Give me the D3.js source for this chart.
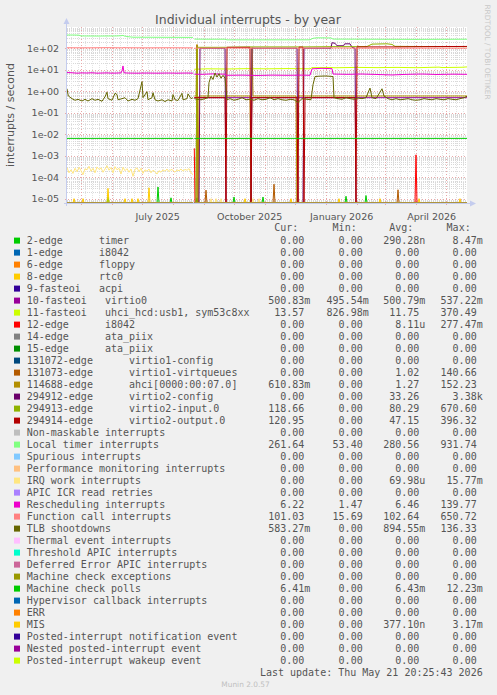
<!DOCTYPE html>
<html><head><meta charset="utf-8">
<script src="https://cdn.jsdelivr.net/npm/d3@7/dist/d3.min.js"></script>
<style>
html,body{margin:0;padding:0;background:#F0F0F0;}
svg text{white-space:pre;}
</style></head>
<body>
<svg id="chart" width="497" height="695"></svg>
<script>
// ---------- DATA ----------
const startDay = Date.UTC(2025, 3, 16, 20, 25, 43);
const endDay = Date.UTC(2026, 4, 21, 20, 25, 43);
const yTickValues = [1e-5, 1e-4, 1e-3, 1e-2, 1e-1, 1, 10, 100];
const yTickLabels = ["1e-05", "1e-04", "1e-03", "1e-02", "1e-01", "1e+00", "1e+01", "1e+02"];
const xTickLabels = ["July 2025", "October 2025", "January 2026", "April 2026"];
const xTickDates = [Date.UTC(2025,6,1), Date.UTC(2025,9,1), Date.UTC(2026,0,1), Date.UTC(2026,3,1)];

const labels = [
  "2-edge      timer", "1-edge      i8042", "6-edge      floppy", "8-edge      rtc0",
  "9-fasteoi   acpi", "10-fasteoi   virtio0", "11-fasteoi   uhci_hcd:usb1, sym53c8xx",
  "12-edge      i8042", "14-edge      ata_piix", "15-edge      ata_piix",
  "131072-edge      virtio1-config", "131073-edge      virtio1-virtqueues",
  "114688-edge      ahci[0000:00:07.0]", "294912-edge      virtio2-config",
  "294913-edge      virtio2-input.0", "294914-edge      virtio2-output.0",
  "Non-maskable interrupts", "Local timer interrupts", "Spurious interrupts",
  "Performance monitoring interrupts", "IRQ work interrupts", "APIC ICR read retries",
  "Rescheduling interrupts", "Function call interrupts", "TLB shootdowns",
  "Thermal event interrupts", "Threshold APIC interrupts", "Deferred Error APIC interrupts",
  "Machine check exceptions", "Machine check polls", "Hypervisor callback interrupts",
  "ERR", "MIS", "Posted-interrupt notification event", "Nested posted-interrupt event",
  "Posted-interrupt wakeup event"
];
const colors = [
  "#00CC00","#0066B3","#FF8000","#FFCC00","#330099","#990099","#CCFF00","#FF0000",
  "#808080","#008F00","#00487D","#B35A00","#B38F00","#6B006B","#8FB300","#B30000",
  "#BEBEBE","#80FF80","#80C9FF","#FFC080","#FFE680","#AA80FF","#EE00CC","#FF8080",
  "#666600","#FFBFFF","#00FFCC","#CC6699","#999900","#00CC00","#0066B3","#FF8000",
  "#FFCC00","#330099","#990099","#CCFF00"
];
const curValues = ["0.00","0.00","0.00","0.00","0.00","500.83m","13.57","0.00","0.00","0.00","0.00","0.00","610.83m","0.00","118.66","120.95","0.00","261.64","0.00","0.00","0.00","0.00","6.22","101.03","583.27m","0.00","0.00","0.00","0.00","6.41m","0.00","0.00","0.00","0.00","0.00","0.00"];
const minValues = ["0.00","0.00","0.00","0.00","0.00","495.54m","826.98m","0.00","0.00","0.00","0.00","0.00","0.00","0.00","0.00","0.00","0.00","53.40","0.00","0.00","0.00","0.00","1.47","15.69","0.00","0.00","0.00","0.00","0.00","0.00","0.00","0.00","0.00","0.00","0.00","0.00"];
const avgValues = ["290.28n","0.00","0.00","0.00","0.00","500.79m","11.75","8.11u","0.00","0.00","0.00","1.02","1.27","33.26","80.29","47.15","0.00","280.56","0.00","0.00","69.98u","0.00","6.46","102.64","894.55m","0.00","0.00","0.00","0.00","6.43m","0.00","0.00","377.10n","0.00","0.00","0.00"];
const maxValues = ["8.47m","0.00","0.00","0.00","0.00","537.22m","370.49","277.47m","0.00","0.00","0.00","140.66","152.23","3.38k","670.60","396.32","0.00","931.74","0.00","0.00","15.77m","0.00","139.77","650.72","136.33","0.00","0.00","0.00","0.00","12.23m","0.00","0.00","3.17m","0.00","0.00","0.00"];

// series points: [day since start, value]; null value = no data
const zeroLine = [[0,0],[126,0],[126.5,null],[127.3,0],[400,0]];
const zeroAfterGap = [[127.3,0],[400,0]];
const timerPts = [[0,0],[40,0],[41,1.2e-5],[42,0],[90,0],[91,3.5e-5],[92,0],[103,0],[104,1.1e-5],[105,0],[126,0],[126.5,null],[127.3,0],[129,0],[130,1.1e-5],[131,0],[166,0],[167,1.2e-5],[168,0],[195,0],[196,1.2e-5],[197,0],[278,0],[279,1.3e-5],[280,0],[298,0],[299,1.4e-5],[300,0],[400,0]];
const virtio0Pts = [[127.3,0.5],[200,0.5],[300,0.5],[400,0.5]];
const fasteoi11Pts = [[127.3,10.5],[140,11],[160,10.8],[180,11.2],[200,11],[220,11.3],[243,11],[245,12.5],[265,12.6],[267,12.3],[290,12.8],[310,12.5],[330,12.8],[350,12.4],[372,13.2],[375,12.6],[395,13],[400,13.5]];
const edge12Pts = [[0,0],[126,0],[126.5,null],[127.3,2.2e-3],[128,0],[348,0],[349,1.1e-3],[350,0],[400,0]];
const virtqPts = [[0,0],[126,0],[126.5,null],[127.3,0],[129,0],[130,140],[131,0],[138,0],[139,2.5e-5],[140,0],[206,0],[207,4.7e-5],[208,0],[330,0],[331,2.6e-5],[332,0],[400,0]];
const ahciPts = [[127.3,0.6],[129,0.6],[130,150],[131,0],[132,0.6],[183,0.6],[184,0],[185,110],[186,0.6],[229,0.6],[230,0],[231,0.6],[400,0.6]];
const configPts = [[127.3,0],[132,0],[133,100],[158,100],[159,0],[184,0],[185,100],[230,100],[231,0],[236,0],[237,100],[264,100],[265,180],[268,170],[270,130],[276,130],[278,160],[283,160],[285,110],[288,100],[289,0],[400,0]];
const inputPts = [[127.3,0],[129,0],[130,110],[159,110],[166,112],[184,115],[231,115],[237,115],[266,118],[290,118],[300,120],[305,155],[320,160],[325,150],[328,122],[350,120],[400,118]];
const outputPts = [[127.3,0.5],[158,0.5],[159,0],[160,110],[183,110],[184,0],[185,0.5],[230,0.5],[231,0],[232,112],[236,112],[237,0],[238,0.5],[288,0.5],[289,0],[290,115],[330,115],[360,118],[400,121]];
const localTimerPts = [[0,410],[6,412],[12,405],[14,372],[30,368],[50,372],[55,385],[56,400],[57,370],[62,340],[66,325],[90,322],[110,320],[126,318],[126.5,null],[127.3,265],[140,262],[158,262],[160,245],[200,245],[243,246],[246,290],[250,305],[264,300],[266,265],[300,262],[350,258],[400,262]];
const irqWorkPts = [[0,2.8e-4],[2,1.6e-4],[4,2.2e-4],[6,1.5e-4],[8,2.6e-4],[10,1.8e-4],[12,2.9e-4],[14,2e-4],[16,1.3e-4],[18,2.5e-4],[20,2.2e-4],[22,3.2e-4],[24,1.9e-4],[26,2.6e-4],[28,1.6e-4],[30,3e-4],[32,2.3e-4],[34,2.7e-4],[36,1.7e-4],[38,2.4e-4],[40,3.4e-4],[42,2.1e-4],[44,2.8e-4],[46,1.6e-4],[48,3.1e-4],[50,2.2e-4],[52,2.6e-4],[54,1.4e-4],[56,2.9e-4],[58,2e-4],[60,2.5e-4],[62,1.7e-4],[64,2.4e-4],[66,1.1e-4],[68,2.3e-4],[70,2.7e-4],[72,1.8e-4],[74,2.6e-4],[76,1.5e-4],[78,2.2e-4],[80,1.9e-4],[82,2.4e-4],[84,1.6e-4],[86,2.1e-4],[88,1.8e-4],[90,1.4e-4],[92,2e-4],[94,1.7e-4],[96,2.2e-4],[98,1.9e-4],[100,2.4e-4],[102,1.8e-4],[104,2.3e-4],[106,2.1e-4],[108,1.7e-4],[110,2.2e-4],[112,2e-4],[114,2.4e-4],[116,1.9e-4],[118,2.3e-4],[120,2.1e-4],[122,2.5e-4],[124,1.6e-4],[126,1.3e-4],[126.5,null],[127.3,0],[143,0],[144,1e-5],[145,0],[148,0],[149,1e-5],[150,0],[153,0],[154,1e-5],[155,0],[185,0],[186,1e-5],[187,0],[191,0],[192,1e-5],[193,0],[400,0]];
const reschedPts = [[0,7.4],[5,7.2],[10,6.9],[15,7.1],[20,7.0],[25,7.2],[30,6.9],[35,7.0],[40,7.1],[45,6.9],[50,7.0],[54,7.1],[55,9],[56,15],[57,7.2],[60,7.0],[70,6.9],[80,7.0],[90,6.9],[100,7.0],[110,6.9],[120,7.0],[126,6.9],[126.5,null],[127.3,6.2],[135,6.1],[145,6.4],[158,6.2],[160,5.5],[175,5.6],[190,5.4],[205,5.6],[220,5.5],[235,5.6],[243,5.5],[245,11],[255,11.6],[265,11.2],[266,6.3],[280,6.1],[295,6.3],[310,6.0],[325,5.7],[340,6.1],[355,6.3],[370,6.0],[385,6.2],[400,6.1]];
const funcCallPts = [[0,105],[20,104],[40,106],[56,104],[57,108],[58,105],[80,104],[100,105],[126,104],[126.5,null],[127.3,100],[160,102],[200,100],[243,101],[266,103],[300,100],[350,101],[400,100]];
const tlbPts = [[0,1.3],[1.3,0.6],[5,0.45],[8,0.38],[11,0.42],[15,0.35],[18,0.42],[21,0.35],[25,0.45],[28,0.38],[31,0.42],[35,0.34],[38,0.55],[40,0.9],[41,0.45],[45,0.38],[48,0.8],[50,0.7],[51,0.4],[55,0.45],[58,0.5],[61,0.35],[65,0.42],[68,0.38],[71,0.45],[75,2.8],[76,0.5],[80,0.95],[81,0.4],[85,0.5],[86,0.85],[88,0.4],[91,0.35],[95,0.4],[98,0.33],[101,0.4],[105,0.35],[106,0.7],[108,0.4],[111,0.37],[115,0.8],[116,0.4],[120,0.45],[121,0.75],[124,0.45],[126,0.5],[126.5,null],[127.3,0.45],[130,0.42],[134,0.4],[138,0.45],[141,0.5],[142,2.5],[144,5],[146,3.5],[148,7],[150,4.5],[152,6.5],[154,4],[156,5.5],[158,4],[160,0.4],[163,0.45],[167,0.38],[171,0.42],[175,0.5],[179,0.4],[183,0.42],[187,0.38],[191,0.45],[195,0.4],[199,0.42],[203,0.5],[207,0.4],[211,0.45],[215,0.4],[219,0.38],[223,0.42],[227,0.4],[231,0.3],[235,0.45],[240,0.42],[244,0.4],[246,2],[248,4.8],[252,5],[258,5.1],[262,5],[266,4.8],[267,0.5],[271,0.45],[275,0.42],[279,0.5],[283,0.45],[287,0.42],[291,0.48],[295,0.45],[299,0.5],[303,1.4],[305,0.5],[309,0.45],[313,0.9],[315,1.3],[317,0.6],[321,0.45],[325,0.4],[329,0.45],[333,0.4],[337,0.42],[341,0.45],[345,0.4],[349,0.38],[353,0.4],[357,0.45],[361,0.42],[365,0.4],[369,0.45],[373,0.42],[377,0.4],[381,0.45],[385,0.42],[389,0.4],[393,0.45],[397,0.5],[400,0.58]];
const mcPollPts = [[0,6.4e-3],[126,6.4e-3],[126.5,null],[127.3,6.4e-3],[400,6.4e-3]];
const misPts = [[0,0],[6,0],[7,1e-5],[8,0],[15,0],[16,1e-5],[17,0],[40,0],[41,3e-5],[42,0],[57,0],[58,1e-5],[59,0],[64,0],[65,1e-5],[66,0],[70,0],[71,1e-5],[72,0],[81,0],[82,3.2e-5],[83,0],[126,0],[126.5,null],[127.3,0],[177,0],[178,1e-5],[179,0],[223,0],[224,1e-5],[225,0],[271,0],[272,1e-5],[273,0],[312,0],[313,1e-5],[314,0],[351,0],[352,1e-5],[353,0],[392,0],[393,1e-5],[394,0],[400,0]];

const seriesPoints = {
  0: timerPts, 5: virtio0Pts, 6: fasteoi11Pts, 7: edge12Pts, 11: virtqPts, 12: ahciPts,
  13: configPts, 14: inputPts, 15: outputPts, 17: localTimerPts, 20: irqWorkPts,
  22: reschedPts, 23: funcCallPts, 24: tlbPts, 29: mcPollPts, 32: misPts
};

// ---------- DRAW ----------
const svg = d3.select("#chart");
const L = 67, R = 467, T = 27, B = 203;
const yLo = 6.3e-6, yHi = 970;
const x = d3.scaleUtc().domain([startDay, endDay]).range([L, R]);
const y = d3.scaleLog().domain([yLo, yHi]).range([B, T]).clamp(true);
const dayToDate = d => startDay + d * 86400000;

svg.append("rect").attr("x", L).attr("y", T).attr("width", R - L).attr("height", B - T).attr("fill", "#FFFFFF");

const grid = svg.append("g");
// minor horizontal grid
for (let e = -6; e <= 2; e++) {
  for (let m = 2; m <= 9; m++) {
    const v = m * Math.pow(10, e);
    if (v < yLo || v > yHi) continue;
    grid.append("line").attr("x1", L).attr("x2", R).attr("y1", Math.round(y(v)) + 0.5).attr("y2", Math.round(y(v)) + 0.5)
      .attr("stroke", "#D8D8D8").attr("stroke-dasharray", "1,1");
  }
}
// minor vertical grid (weekly)
d3.utcMonday.range(new Date(startDay), new Date(endDay)).forEach(d => {
  grid.append("line").attr("x1", Math.round(x(d)) + 0.5).attr("x2", Math.round(x(d)) + 0.5).attr("y1", T).attr("y2", B)
    .attr("stroke", "#E4E4E4").attr("stroke-dasharray", "1,1");
});
// major vertical grid (monthly)
d3.utcMonth.range(new Date(startDay), new Date(endDay)).forEach(d => {
  grid.append("line").attr("x1", Math.round(x(d)) + 0.5).attr("x2", Math.round(x(d)) + 0.5).attr("y1", T).attr("y2", B + 3)
    .attr("stroke", "#E8A8A8").attr("stroke-dasharray", "1,2");
});
// major horizontal grid
yTickValues.forEach(v => {
  grid.append("line").attr("x1", L - 2).attr("x2", R).attr("y1", Math.round(y(v)) + 0.5).attr("y2", Math.round(y(v)) + 0.5)
    .attr("stroke", "#E8A8A8").attr("stroke-dasharray", "1,2");
});

// series lines
const line = d3.line()
  .defined(d => d[1] !== null)
  .x(d => x(dayToDate(d[0])))
  .y(d => y(Math.max(d[1], yLo)));
const plot = svg.append("g");
labels.forEach((lab, i) => {
  let pts = seriesPoints[i];
  if (!pts) pts = (i >= 10 && i <= 15) || i === 5 || i === 6 ? zeroAfterGap : zeroLine;
  plot.append("path").datum(pts).attr("d", line).attr("fill", "none")
    .attr("stroke", colors[i]).attr("stroke-width", 1);
});

// axes
const axisColor = "#C4CCEE";
svg.append("line").attr("x1", L - 0.5).attr("x2", L - 0.5).attr("y1", T - 4).attr("y2", B + 3).attr("stroke", axisColor);
svg.append("line").attr("x1", L - 3).attr("x2", R + 3).attr("y1", B + 0.5).attr("y2", B + 0.5).attr("stroke", axisColor);
svg.append("path").attr("d", `M${L-3.5},${T-3} L${L+2.5},${T-3} L${L-0.5},${T-9} Z`).attr("fill", axisColor);
svg.append("path").attr("d", `M${R+3},${B-2.5} L${R+3},${B+3.5} L${R+9},${B+0.5} Z`).attr("fill", axisColor);

const yAxis = d3.axisLeft(y).tickValues(yTickValues).tickFormat((d, i) => yTickLabels[i]).tickSize(0).tickPadding(8);
const gy = svg.append("g").attr("transform", `translate(${L},0)`).call(yAxis);
gy.select(".domain").remove();
gy.selectAll("text").attr("font-family", "DejaVu Sans").attr("font-size", 9.5).attr("fill", "#555");

const xAxis = d3.axisBottom(x).tickValues(xTickDates.map(d => d + 15 * 86400000)).tickFormat((d, i) => xTickLabels[i]).tickSize(0).tickPadding(10);
const gx = svg.append("g").attr("transform", `translate(0,${B})`).call(xAxis);
gx.select(".domain").remove();
gx.selectAll("text").attr("font-family", "DejaVu Sans").attr("font-size", 9.5).attr("fill", "#555");

// title etc
svg.append("text").attr("x", 248).attr("y", 23.5).attr("text-anchor", "middle")
  .attr("font-family", "DejaVu Sans").attr("font-size", 12.5).attr("fill", "#555").text("Individual interrupts - by year");
svg.append("text").attr("transform", "translate(14,115) rotate(-90)").attr("text-anchor", "middle")
  .attr("font-family", "DejaVu Sans").attr("font-size", 11).attr("fill", "#555").text("interrupts / second");
svg.append("text").attr("transform", "translate(484.5,52) rotate(90)").attr("text-anchor", "middle")
  .attr("font-family", "DejaVu Sans").attr("font-size", 7.4).attr("fill", "#C8C8C8").text("RRDTOOL / TOBI OETIKER");

// legend
const lg = svg.append("g").attr("font-family", "DejaVu Sans Mono").attr("font-size", 10).attr("fill", "#555");
const colEdges = [304.3, 362.7, 419.3, 476.7];
["Cur:", "Min:", "Avg:", "Max:"].forEach((h, k) => {
  lg.append("text").attr("x", colEdges[k] - 6).attr("y", 230.8).attr("text-anchor", "end").text(h);
});
const vx = (s, k) => colEdges[k] + (/[a-z]$/i.test(s) ? 6.02 : 0);
labels.forEach((lab, i) => {
  const by = 243.6 + i * 12;
  lg.append("rect").attr("x", 14).attr("y", by - 6).attr("width", 6).attr("height", 6).attr("fill", colors[i]);
  lg.append("text").attr("x", 26.7).attr("y", by).text(lab);
  [curValues[i], minValues[i], avgValues[i], maxValues[i]].forEach((s, k) => {
    lg.append("text").attr("x", vx(s, k)).attr("y", by).attr("text-anchor", "end").text(s);
  });
});
lg.append("text").attr("x", 482.7).attr("y", 675.6).attr("text-anchor", "end").text("Last update: Thu May 21 20:25:43 2026");
svg.append("text").attr("x", 245.5).attr("y", 687).attr("text-anchor", "middle")
  .attr("font-family", "DejaVu Sans").attr("font-size", 7.4).attr("fill", "#C0C0C0").text("Munin 2.0.57");
</script>
</body></html>
